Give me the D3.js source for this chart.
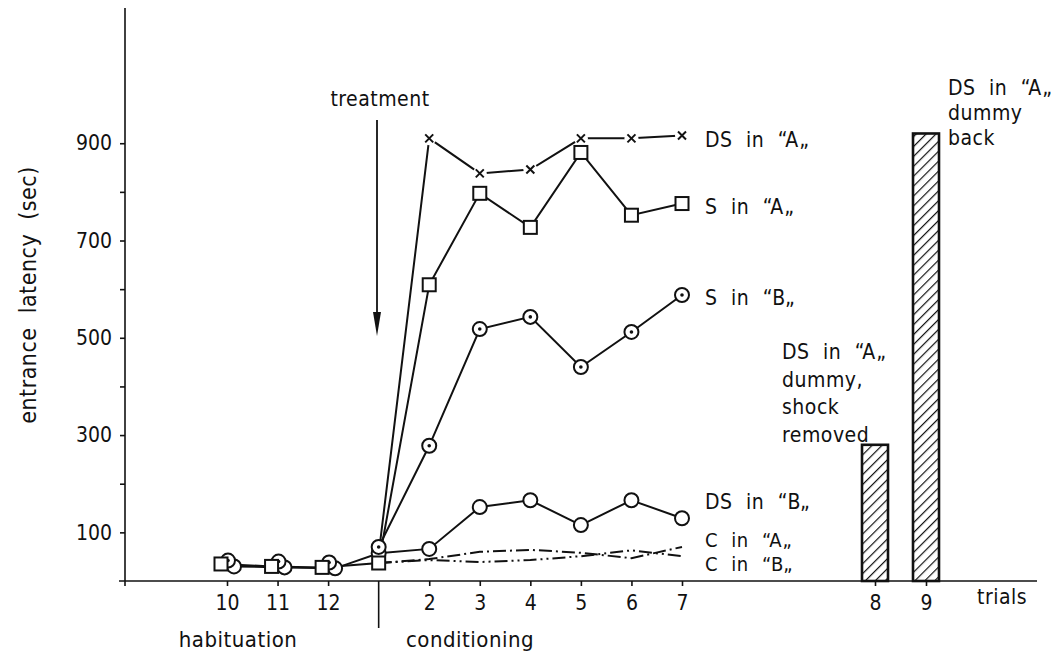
<!DOCTYPE html>
<html>
<head>
<meta charset="utf-8">
<script src="https://cdn.jsdelivr.net/npm/d3@7"></script>
<style>
  body { margin: 0; background: #fff; }
  svg text { font-family: "DejaVu Sans Condensed", "DejaVu Sans", sans-serif; fill: #111; }
  .axis text { font-size: 21px; }
  .axis path, .axis line { stroke: #111; stroke-width: 1.6; }
  .words { letter-spacing: 0.5px; word-spacing: 7px; }
</style>
</head>
<body>
<div id="chart"></div>
<script>
// trial labels along the x axis (habituation 10-12, conditioning 1-7)
var trialLabels = ["10", "11", "12", "1", "2", "3", "4", "5", "6", "7"];
var barLabels = ["8", "9"];

// latencies in sec
var dsA = [null, null, null, 55, 910, 838, 846, 910, 910, 916];
var sA  = [35, 30, 28, 37, 609, 797, 727, 881, 752, 776];
var sB  = [42, 40, 38, 70, 278, 518, 543, 440, 512, 588];
var dsB = [30, 28, 26, 57, 66, 152, 166, 115, 166, 129];
var cA  = [null, null, null, 37, 45, 60, 64, 58, 47, 70];
var cB  = [null, null, null, 37, 43, 39, 43, 51, 63, 51];
var barValues = [280, 920];

var yTicks = [100, 200, 300, 400, 500, 600, 700, 800, 900];

(function() {
  var width = 1062, height = 655;

  var svg = d3.select("#chart")
    .append("svg")
    .attr("width", width)
    .attr("height", height);

  // index 0..9 = line trials, 10..11 = bar trials (after a gap)
  var xPositionScale = d3.scaleLinear().domain([0, 9, 10, 11]).range([227, 682, 875, 926]);
  var yPositionScale = d3.scaleLinear().domain([0, 1178]).range([581, 8]);

  var defs = svg.append("defs");
  defs.append("pattern")
    .attr("id", "hatch")
    .attr("patternUnits", "userSpaceOnUse")
    .attr("width", 7)
    .attr("height", 7)
    .attr("patternTransform", "rotate(45)")
    .append("line")
    .attr("x1", 0).attr("y1", 0).attr("x2", 0).attr("y2", 7)
    .attr("stroke", "#111")
    .attr("stroke-width", 2.4);

  // y axis
  var yAxis = d3.axisLeft(yPositionScale)
    .tickValues(yTicks)
    .tickSize(5)
    .tickPadding(8)
    .tickFormat(function(d) { return (d / 100) % 2 == 1 ? d : ""; });
  var yg = svg.append("g")
    .attr("class", "axis y-axis")
    .attr("transform", "translate(125,0)")
    .call(yAxis);
  yg.select(".domain").remove();
  yg.append("line")
    .attr("x1", 0).attr("x2", 0)
    .attr("y1", yPositionScale(1178)).attr("y2", yPositionScale(0) + 5);
  yg.selectAll("text").attr("font-size", 22);

  // x axis
  var xTickIdx = [0, 1, 2, 4, 5, 6, 7, 8, 9, 10, 11];
  var xAxis = d3.axisBottom(xPositionScale)
    .tickValues(xTickIdx)
    .tickSize(5)
    .tickPadding(9)
    .tickFormat(function(i) { return i < 10 ? trialLabels[i] : barLabels[i - 10]; });
  var xg = svg.append("g")
    .attr("class", "axis x-axis")
    .attr("transform", "translate(0," + yPositionScale(0) + ")")
    .call(xAxis);
  xg.select(".domain").remove();
  xg.append("line").attr("x1", 119).attr("x2", 1037).attr("y1", 0).attr("y2", 0);
  // divider between habituation and conditioning
  xg.append("line")
    .attr("x1", xPositionScale(3)).attr("x2", xPositionScale(3))
    .attr("y1", 0).attr("y2", 47);

  svg.append("text").attr("class", "words").attr("x", 977).attr("y", 604).attr("font-size", 21).text("trials");
  svg.append("text").attr("class", "words").attr("x", 238).attr("y", 647).attr("font-size", 22)
    .attr("text-anchor", "middle").text("habituation");
  svg.append("text").attr("class", "words").attr("x", 470).attr("y", 647).attr("font-size", 22)
    .attr("text-anchor", "middle").text("conditioning");

  svg.append("text")
    .attr("class", "words")
    .attr("transform", "translate(36,295) rotate(-90)")
    .attr("text-anchor", "middle")
    .attr("font-size", 23)
    .text("entrance latency (sec)");

  // treatment arrow
  svg.append("text").attr("class", "words").attr("x", 380).attr("y", 106).attr("font-size", 21)
    .attr("text-anchor", "middle").text("treatment");
  svg.append("line")
    .attr("x1", 377).attr("x2", 377).attr("y1", 120).attr("y2", 322)
    .attr("stroke", "#111").attr("stroke-width", 1.8);
  svg.append("path")
    .attr("d", "M373,312 L381,312 L377,336 Z")
    .attr("fill", "#111");

  // bars
  svg.selectAll(".bar")
    .data(barValues)
    .enter().append("rect")
    .attr("class", "bar")
    .attr("x", function(d, i) { return xPositionScale(10 + i) - 13; })
    .attr("width", 26)
    .attr("y", function(d) { return yPositionScale(d); })
    .attr("height", function(d) { return yPositionScale(0) - yPositionScale(d); })
    .attr("fill", "url(#hatch)")
    .attr("stroke", "#111")
    .attr("stroke-width", 2.6);

  var series = [
    { values: cA, marker: "none", from: 3, dash: "13,4,2,4" },
    { values: cB, marker: "none", from: 3, dash: "13,4,2,4,2,4" },
    { values: dsA, marker: "cross", from: 3 },
    { values: dsB, marker: "circle", from: 0, dx: 7 },
    { values: sB, marker: "dotcircle", from: 3, dx: 1 },
    { values: sA, marker: "square", from: 0, dx: -6 }
  ];

  function px(i, s) {
    return xPositionScale(i) + (i < 3 && s.dx ? s.dx : 0);
  }

  var line = d3.line()
    .defined(function(d) { return d.v != null; })
    .x(function(d) { return d.x; })
    .y(function(d) { return yPositionScale(d.v); });

  series.forEach(function(s) {
    var pts = s.values.map(function(v, i) { return { v: i >= s.from ? v : null, x: px(i, s) }; });
    svg.append("path")
      .datum(pts)
      .attr("d", line)
      .attr("fill", "none")
      .attr("stroke", "#111")
      .attr("stroke-width", 2)
      .attr("stroke-dasharray", s.dash || null);
  });

  // markers on top
  series.forEach(function(s) {
    if (s.marker == "none") return;
    var g = svg.append("g");
    var pts = s.values.map(function(v, i) { return { v: v, x: px(i, s) }; })
      .filter(function(d) { return d.v != null; });
    var m = g.selectAll("g").data(pts).enter().append("g")
      .attr("transform", function(d) { return "translate(" + d.x + "," + yPositionScale(d.v) + ")"; });
    if (s.marker == "square") {
      m.append("rect").attr("x", -6.5).attr("y", -6.5).attr("width", 13).attr("height", 13)
        .attr("fill", "#fff").attr("stroke", "#111").attr("stroke-width", 2);
    } else if (s.marker == "circle" || s.marker == "dotcircle") {
      m.append("circle").attr("r", 7)
        .attr("fill", "#fff").attr("stroke", "#111").attr("stroke-width", 2);
      if (s.marker == "dotcircle") m.append("circle").attr("r", 1.8).attr("fill", "#111");
    } else if (s.marker == "cross") {
      m.append("circle").attr("r", 7).attr("fill", "#fff");
      m.append("path").attr("d", "M-4,-4L4,4M-4,4L4,-4")
        .attr("stroke", "#111").attr("stroke-width", 2);
    }
  });

  // end-of-line labels
  var labels = [
    { t: "DS in “A„", y: 147 },
    { t: "S in “A„", y: 214 },
    { t: "S in “B„", y: 305 },
    { t: "DS in “B„", y: 509 },
    { t: "C in “A„", y: 547 },
    { t: "C in “B„", y: 571 }
  ];
  svg.selectAll(".lbl")
    .data(labels)
    .enter().append("text")
    .attr("class", "lbl words")
    .attr("x", 705)
    .attr("y", function(d) { return d.y; })
    .attr("font-size", function(d) { return d.y > 540 ? 20 : 21; })
    .text(function(d) { return d.t; });

  var note8 = ["DS in “A„", "dummy,", "shock", "removed"];
  svg.selectAll(".n8").data(note8).enter().append("text")
    .attr("class", "words")
    .attr("x", 782).attr("y", function(d, i) { return 359 + i * 27.5; })
    .attr("font-size", 21).text(function(d) { return d; });

  var note9 = ["DS in “A„", "dummy", "back"];
  svg.selectAll(".n9").data(note9).enter().append("text")
    .attr("class", "words")
    .attr("x", 948).attr("y", function(d, i) { return 95 + i * 25; })
    .attr("font-size", 21).text(function(d) { return d; });
})();
</script>
</body>
</html>
